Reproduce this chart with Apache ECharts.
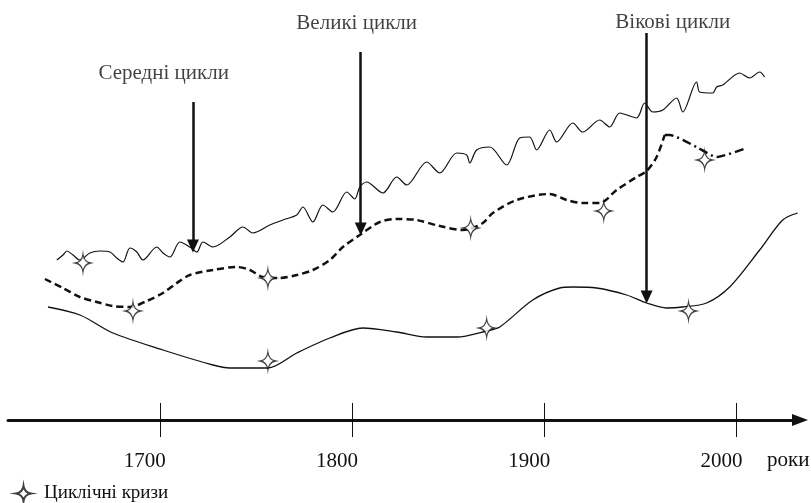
<!DOCTYPE html>
<html>
<head>
<meta charset="utf-8">
<script src="https://cdn.jsdelivr.net/npm/echarts@6/dist/echarts.min.js"></script>
<style>
  html, body { margin: 0; padding: 0; background: #fff; }
  #chart { width: 811px; height: 503px; }
</style>
</head>
<body>
<div id="chart"></div>
<script>
const chart = echarts.init(document.getElementById('chart'));

// [year, level] pairs
const yearTicks = [1700, 1800, 1900, 2000];

const mediumCycles = [
  [1646.4, 160], [1649.6, 165], [1651.6, 169], [1654.8, 165], [1658.4, 160],
  [1663.6, 167], [1668.8, 169], [1674, 168], [1677.6, 162], [1680.8, 158],
  [1684.4, 172], [1688, 168], [1691.2, 160], [1698.4, 173], [1701.6, 167],
  [1705.2, 163], [1710.4, 178], [1715.6, 173], [1719.2, 168], [1722.4, 178],
  [1727.6, 173], [1736.4, 183], [1743.2, 193], [1748.4, 187], [1757.2, 195],
  [1764, 200], [1771.2, 205], [1774.4, 213], [1779.6, 198], [1784.8, 215],
  [1790, 208], [1797.2, 228], [1801.4, 221], [1804, 233], [1807.6, 238],
  [1816, 227], [1823.2, 243], [1828.4, 235], [1838.8, 258], [1845.6, 247],
  [1854.4, 267], [1859.6, 265], [1861.2, 257], [1864.8, 270], [1871.6, 273],
  [1880.4, 255], [1887.2, 282], [1892.4, 283], [1896, 270], [1902.8, 290],
  [1906.4, 278], [1914.8, 297], [1920, 288], [1928.8, 300], [1934, 293],
  [1939.2, 307], [1948, 302], [1952.2, 317], [1956.4, 308], [1961.6, 310],
  [1968.8, 322], [1972, 308], [1979.2, 338], [1980.8, 328], [1987.6, 327],
  [1989.6, 333], [1992.8, 335], [2001.6, 347], [2006.8, 342], [2012, 348],
  [2014.6, 343]
];

const longCycles = [
  [1640.2, 141], [1649.6, 132], [1658.4, 123], [1667.2, 118], [1675.6, 114],
  [1684.4, 113], [1693.2, 119], [1701.6, 127], [1708.8, 137], [1715.6, 145],
  [1727.6, 150], [1740, 153], [1746.8, 150], [1753.6, 143], [1762.4, 142],
  [1771.2, 145], [1779.6, 150], [1788.4, 160], [1795.2, 173], [1804, 185],
  [1814.4, 198], [1823.2, 201], [1833.6, 200], [1845.6, 194], [1857.6, 190],
  [1861.2, 191], [1868, 197], [1873.2, 207], [1885.6, 220], [1902.8, 226],
  [1911.6, 220], [1920, 217], [1928.8, 217], [1937.6, 230], [1948, 243],
  [1953.2, 249], [1958.4, 263], [1962.6, 285]
];

const longCyclesTail = [
  [1962.6, 285], [1965.2, 285], [1979.2, 273], [1989.6, 263], [2005.2, 272]
];

const secularCycles = [
  [1641.8, 113], [1658.4, 105], [1675.6, 87], [1701.6, 70], [1727.6, 55],
  [1736.4, 52], [1756.2, 52], [1771.2, 67], [1788.4, 82], [1805.6, 92],
  [1823.2, 88], [1838.8, 83], [1854.4, 83], [1870, 89], [1876.8, 93],
  [1894, 120], [1908, 132], [1914.8, 133], [1927.2, 132], [1942.8, 125],
  [1953.2, 117], [1963.6, 112], [1972, 113], [1984.4, 117], [1996.4, 133],
  [2012, 170], [2024, 200], [2031.8, 207]
];

const crises = [
  [1660, 157], [1686, 109], [1756.2, 142], [1756.2, 59], [1861.7, 192],
  [1870, 92], [1930.9, 209], [1975, 109], [1983.4, 260]
];

const arrowNames = ['Середні цикли', 'Великі цикли', 'Вікові цикли'];
const arrowYears = [1717.2, 1804.5, 1953.2];
const arrowFrom = [318, 368, 387];
const arrowTo = [174, 191, 123];
const arrowLabelPos = [[1702, 347], [1802.4, 397], [1966.8, 398]];

const font = 'Liberation Serif';
const ink = '#111';
const starPath = 'path://M10,0 Q11.3,8.7 20,10 Q11.3,11.3 10,20 Q8.7,11.3 0,10 Q8.7,8.7 10,0 Z';

chart.setOption({
  animation: false,
  backgroundColor: '#fff',
  grid: { left: 8, right: 11, top: 0, bottom: 83 },
  legend: {
    data: ['Циклічні кризи'],
    left: 10,
    top: 479,
    itemWidth: 15,
    itemHeight: 18,
    textStyle: { fontFamily: font, fontSize: 19, color: ink, padding: [0, 0, 0, 8] }
  },
  xAxis: [
    {
      type: 'value',
      min: 1621,
      max: 2033,
      splitLine: { show: false },
      axisLine: {
        show: true,
        lineStyle: { color: ink, width: 3 },
        symbol: ['none', 'triangle'],
        symbolSize: [12, 16]
      },
      axisTick: {
        show: true,
        customValues: yearTicks,
        length: 17,
        lineStyle: { color: ink, width: 1 }
      },
      axisLabel: {
        customValues: yearTicks,
        formatter: v => String(v),
        margin: 31,
        fontFamily: font,
        fontSize: 21,
        color: ink,
        padding: [0, 30, 0, 0]
      }
    },
    {
      type: 'value',
      min: 1621,
      max: 2033,
      position: 'bottom',
      splitLine: { show: false },
      axisLine: { show: false },
      axisTick: {
        show: true,
        inside: true,
        customValues: yearTicks,
        length: 17,
        lineStyle: { color: ink, width: 1 }
      },
      axisLabel: { show: false }
    }
  ],
  yAxis: {
    type: 'value',
    min: 0,
    max: 420,
    show: false
  },
  graphic: [{
    type: 'text',
    left: 767,
    top: 450,
    style: { text: 'роки', font: '21px "Liberation Serif"', fill: ink }
  }],
  series: [
    {
      name: 'Середні',
      type: 'line',
      data: mediumCycles,
      symbol: 'none',
      smooth: 0.3,
      lineStyle: { color: ink, width: 1.2 },
      markLine: {
        silent: true,
        symbol: ['none', 'triangle'],
        symbolSize: [12, 13],
        label: { show: false },
        lineStyle: { color: ink, width: 2.5, type: 'solid' },
        data: arrowYears.map((y, i) => [
          { coord: [y, arrowFrom[i]] },
          { coord: [y, arrowTo[i]] }
        ])
      }
    },
    {
      name: 'Великі',
      type: 'line',
      data: longCycles,
      symbol: 'none',
      smooth: 0.3,
      lineStyle: { color: ink, width: 2.5, type: [7, 4] }
    },
    {
      name: 'Великі (продовження)',
      type: 'line',
      data: longCyclesTail,
      symbol: 'none',
      smooth: 0.2,
      lineStyle: { color: ink, width: 2.5, type: [9, 4, 2, 4] }
    },
    {
      name: 'Вікові',
      type: 'line',
      data: secularCycles,
      symbol: 'none',
      smooth: 0.3,
      lineStyle: { color: ink, width: 1.3 }
    },
    {
      name: 'Циклічні кризи',
      type: 'scatter',
      data: crises,
      symbol: starPath,
      symbolSize: [15, 18],
      itemStyle: { color: '#fff', borderColor: ink, borderWidth: 1.2 },
      z: 5
    },
    {
      name: 'підписи',
      type: 'scatter',
      data: arrowLabelPos.map((p, i) => ({ value: p, name: arrowNames[i] })),
      symbolSize: 0,
      silent: true,
      label: {
        show: true,
        position: 'inside',
        formatter: p => p.name,
        fontFamily: font,
        fontSize: 21,
        color: ink
      }
    }
  ]
});
</script>
</body>
</html>
